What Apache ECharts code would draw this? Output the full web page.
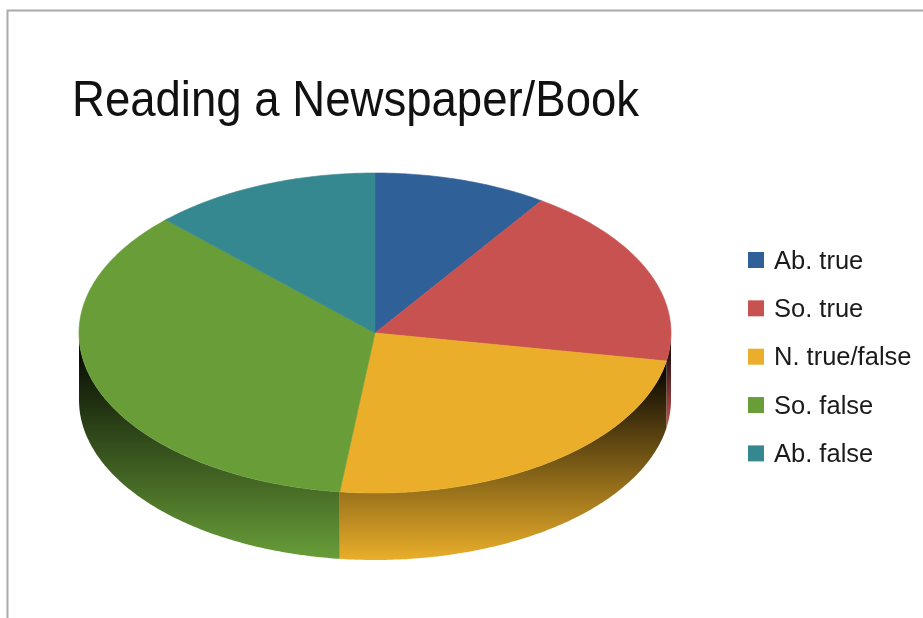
<!DOCTYPE html>
<html>
<head>
<meta charset="utf-8">
<style>html,body{margin:0;padding:0;background:#fff}#chart{width:923px;height:618px}</style>
<script src="https://cdn.jsdelivr.net/npm/echarts@6/dist/echarts.min.js"></script>
</head>
<body>
<div id="chart"></div>
<script>
// Survey answers, clockwise from twelve o'clock (percent of respondents)
const categories = ['Ab. true', 'So. true', 'N. true/false', 'So. false', 'Ab. false'];
const shares = [9.5, 18.3, 24.1, 35.6, 12.5];
const colors = ['#2f6098', '#c85250', '#eaae2a', '#689d38', '#358890'];
const chartTitle = 'Reading a Newspaper/Book';

// Tilted disc geometry
const disc = { cx: 375, cy: 333, rx: 296, ry: 160, depth: 67 };
const total = shares.reduce((a, b) => a + b, 0);
const FRONT_START = Math.PI / 2;
const FRONT_END = Math.PI * 1.5;

function rim(angle, drop) {
  return [
    disc.cx + disc.rx * Math.sin(angle),
    disc.cy - disc.ry * Math.cos(angle) + drop
  ];
}

function arc(from, to, drop) {
  const steps = Math.max(2, Math.ceil((to - from) * 90));
  const pts = [];
  for (let i = 0; i <= steps; i++) pts.push(rim(from + (to - from) * i / steps, drop));
  return pts;
}

// Each wall runs from black at its top to the full slice colour at its bottom
function wallFill(color) {
  return {
    type: 'linear',
    x: 0, y: 0, x2: 0, y2: 1,
    colorStops: [
      { offset: 0, color: '#000000' },
      { offset: 1, color: color }
    ]
  };
}

function renderSlice(params, api) {
  const i = params.seriesIndex;
  const before = shares.slice(0, i).reduce((a, b) => a + b, 0);
  const a0 = before / total * Math.PI * 2;
  const a1 = (before + api.value(0)) / total * Math.PI * 2;
  const children = [];

  // Only the part of the wall facing the viewer is visible
  const w0 = Math.max(a0, FRONT_START);
  const w1 = Math.min(a1, FRONT_END);
  if (w1 > w0) {
    const upper = arc(w0, w1, 0);
    const lower = arc(w0, w1, disc.depth).reverse();
    children.push({
      type: 'polygon',
      shape: { points: upper.concat(lower) },
      style: { fill: wallFill(colors[i]) }
    });
  }

  children.push({
    type: 'polygon',
    shape: { points: [[disc.cx, disc.cy]].concat(arc(a0, a1, 0)) },
    style: { fill: colors[i], stroke: colors[i], lineWidth: 0.6 }
  });
  return { type: 'group', children };
}

const chart = echarts.init(document.getElementById('chart'), null, { renderer: 'canvas' });
chart.setOption({
  animation: false,
  backgroundColor: '#ffffff',
  legend: {
    orient: 'vertical',
    left: 748,
    top: 248.5,
    padding: 0,
    icon: 'rect',
    itemWidth: 16,
    itemHeight: 16,
    itemGap: 22.35,
    selectedMode: false,
    data: categories,
    formatter: name => `{row|${name}}`,
    textStyle: {
      rich: {
        row: {
          fontFamily: '"Liberation Sans", Arial, sans-serif',
          fontSize: 25.5,
          color: '#1a1a1a',
          padding: [3, 0, 0, 5]
        }
      }
    }
  },
  graphic: [
    {
      type: 'polyline',
      silent: true,
      shape: { points: [[7.5, 618], [7.5, 10.5], [923, 10.5]] },
      style: { stroke: '#aaaaaa', lineWidth: 2, fill: null }
    },
    {
      type: 'text',
      silent: true,
      x: 72,
      y: 77,
      scaleX: 0.92,
      style: {
        text: chartTitle,
        font: '49.5px "Liberation Sans", Arial, sans-serif',
        fill: '#111111'
      }
    }
  ],
  series: categories.map((name, i) => ({
    type: 'custom',
    name,
    coordinateSystem: 'none',
    silent: true,
    itemStyle: { color: colors[i] },
    data: [[shares[i]]],
    renderItem: renderSlice
  }))
});
</script>
</body>
</html>
